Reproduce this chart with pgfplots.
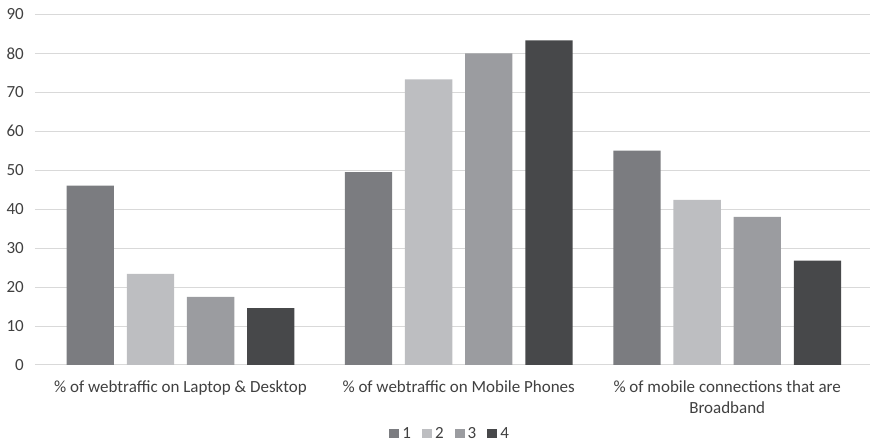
\documentclass[border=0pt]{standalone}
\usepackage{fontspec}
\setmainfont{Carlito}
\usepackage{pgfplots}
\pgfplotsset{compat=1.18}
\definecolor{cA}{HTML}{7B7C80}
\definecolor{cB}{HTML}{BDBEC1}
\definecolor{cC}{HTML}{9B9CA0}
\definecolor{cD}{HTML}{47484A}
\definecolor{gridc}{HTML}{D9D9D9}
\definecolor{txt}{HTML}{404040}
\begin{document}
\begin{tikzpicture}[x=1pt,y=1pt]
\useasboundingbox (0,0) rectangle (870,441);
\begin{axis}[
  at={(35pt,76pt)}, anchor=south west,
  scale only axis, width=835pt, height=350.7pt,
  xmin=35, xmax=870, ymin=0, ymax=90,
  ybar=12.9pt, bar width=47.3pt,
  xtick={180.5,458.7,727.2},
  xticklabels={{\% of webtraffic on Laptop \& Desktop},{\% of webtraffic on Mobile Phones},{\begin{tabular}[t]{@{}c@{}}\% of mobile connections that are\\Broadband\end{tabular}}},
  ytick={0,10,...,90},
  ymajorgrids, major grid style={draw=gridc, line width=1pt},
  axis line style={draw=none},
  major tick length=0pt, tick style={draw=none},
  /pgf/number format/assume math mode=true,
  tick label style={font=\fontsize{17}{21}\selectfont, text=txt},
  yticklabel style={anchor=east, inner sep=0pt, xshift=-11pt},
  xticklabel style={anchor=base, inner sep=0pt, yshift=-27.7pt},
  legend columns=4,
  legend style={draw=none, fill=none, at={(0.496,-0.1953)}, anchor=center,
    font=\fontsize{17}{20}\selectfont, text=txt, nodes={inner sep=0pt},
    cells={anchor=west},
    /tikz/every odd column/.append style={column sep=3pt},
    /tikz/every even column/.append style={column sep=11pt}},
  every axis plot post/.append style={legend image code/.code={\fill[#1] (0pt,-4.5pt) rectangle (10pt,4.5pt);}},
]
\addplot[fill=cA, draw=none] coordinates {(180.5,46.0) (458.7,49.5) (727.2,55.0)};
\addplot[fill=cB, draw=none] coordinates {(180.5,23.4) (458.7,73.3) (727.2,42.4)};
\addplot[fill=cC, draw=none] coordinates {(180.5,17.5) (458.7,80.0) (727.2,38.0)};
\addplot[fill=cD, draw=none] coordinates {(180.5,14.6) (458.7,83.3) (727.2,26.8)};
\legend{1,2,3,4}
\end{axis}
\end{tikzpicture}
\end{document}
